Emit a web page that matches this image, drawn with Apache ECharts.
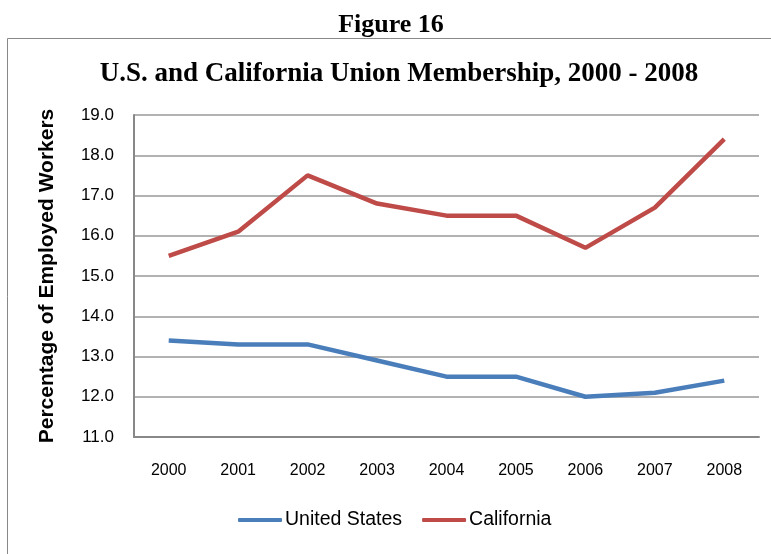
<!DOCTYPE html>
<html>
<head>
<meta charset="utf-8">
<script src="https://cdn.jsdelivr.net/npm/echarts@6/dist/echarts.min.js"></script>
<style>
  html, body { margin: 0; padding: 0; background: #fff; }
  #main { width: 771px; height: 554px; }
</style>
</head>
<body>
<div id="main"></div>
<script>
var years = ['2000', '2001', '2002', '2003', '2004', '2005', '2006', '2007', '2008'];
var unitedStates = [13.4, 13.3, 13.3, 12.9, 12.5, 12.5, 12.0, 12.1, 12.4];
var california = [15.5, 16.1, 17.5, 16.8, 16.5, 16.5, 15.7, 16.7, 18.4];

var chart = echarts.init(document.getElementById('main'));

chart.setOption({
  animation: false,
  color: ['#4a7ebb', '#be4b48'],
  title: [
    {
      text: 'Figure 16',
      left: 386,
      textAlign: 'center',
      top: 7,
      textStyle: { fontFamily: 'Liberation Serif', fontWeight: 'bold', fontSize: 26, color: '#000' }
    },
    {
      text: 'U.S. and California Union Membership, 2000 - 2008',
      left: 394,
      textAlign: 'center',
      top: 56,
      textStyle: { fontFamily: 'Liberation Serif', fontWeight: 'bold', fontSize: 27, color: '#000' }
    }
  ],
  graphic: [
    {
      type: 'rect',
      shape: { x: 7.5, y: 38.5, width: 800, height: 600 },
      style: { fill: 'none', stroke: '#888', lineWidth: 1 },
      silent: true
    }
  ],
  legend: {
    bottom: 19,
    left: 233,
    itemWidth: 44,
    itemHeight: 4,
    itemGap: 20,
    icon: 'roundRect',
    textStyle: { fontFamily: 'Liberation Sans', fontSize: 19.5, color: '#000', padding: [0, 0, 0, -2] },
    data: ['United States', 'California']
  },
  grid: { left: 134, right: 12, top: 115, bottom: 117 },
  xAxis: {
    type: 'category',
    data: years,
    boundaryGap: true,
    axisLine: { lineStyle: { color: '#888', width: 2 } },
    axisTick: { show: false },
    axisLabel: { margin: 26, fontFamily: 'Liberation Sans', fontSize: 16, color: '#000' }
  },
  yAxis: {
    type: 'value',
    min: 11,
    max: 19,
    interval: 1,
    name: 'Percentage of Employed Workers',
    nameLocation: 'middle',
    nameGap: 76,
    nameTextStyle: { fontFamily: 'Liberation Sans', fontWeight: 'bold', fontSize: 21, color: '#000' },
    axisLine: { show: true, lineStyle: { color: '#888', width: 2 } },
    axisTick: { show: false },
    axisLabel: {
      margin: 20,
      fontFamily: 'Liberation Sans',
      fontSize: 17,
      color: '#000',
      formatter: function (v) { return v.toFixed(1); }
    },
    splitLine: { lineStyle: { color: '#999', width: 1.5 } }
  },
  series: [
    {
      name: 'United States',
      type: 'line',
      data: unitedStates,
      symbol: 'none',
      lineStyle: { width: 4.5 }
    },
    {
      name: 'California',
      type: 'line',
      data: california,
      symbol: 'none',
      lineStyle: { width: 4.5 }
    }
  ]
});
</script>
</body>
</html>
